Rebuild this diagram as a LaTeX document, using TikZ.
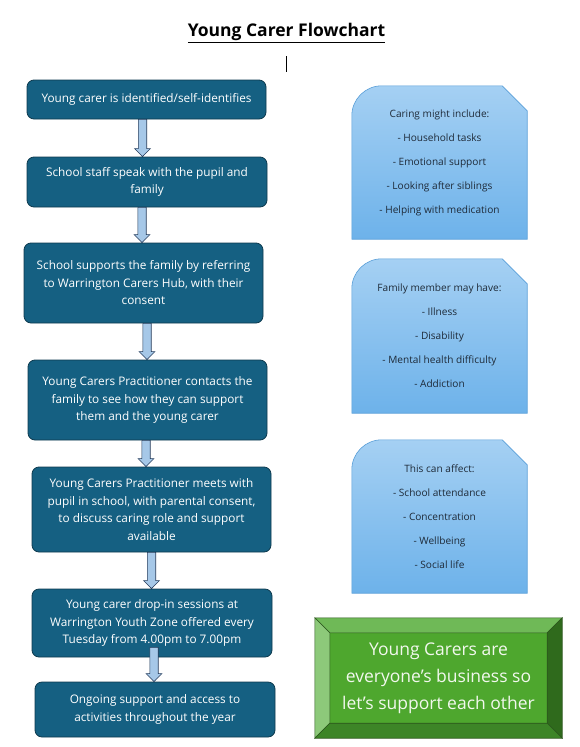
\documentclass[tikz,border=0pt]{standalone}
\usepackage{fontspec}
\setmainfont{Open Sans}
\usetikzlibrary{calc, backgrounds}

\definecolor{boxfill}{HTML}{156082}
\definecolor{boxline}{HTML}{0E3A4E}
\definecolor{arrowfill}{HTML}{A6C8E8}
\definecolor{arrowline}{HTML}{233A5A}
\definecolor{notetop}{HTML}{A5D0F3}
\definecolor{notebottom}{HTML}{6DB2EA}
\definecolor{noteline}{HTML}{5A9FD8}
\definecolor{notetext}{HTML}{1E2A38}
\definecolor{greenmid}{HTML}{4EA72E}
\definecolor{greentop}{HTML}{6FB957}
\definecolor{greenleft}{HTML}{8DC97A}
\definecolor{greenright}{HTML}{2F6A1C}
\definecolor{greenbottom}{HTML}{3D8527}
\definecolor{greenline}{HTML}{2B561C}
\definecolor{greentext}{HTML}{F2F8EE}

% snipped and rounded callout drawn round a node
\newcommand{\noteshape}[1]{%
  \draw[noteline, line width=0.6pt, top color=notetop, bottom color=notebottom]
    (#1.south west) -- ([yshift=-30pt]#1.north west)
    arc[start angle=180, end angle=90, radius=30pt]
    -- ([xshift=-25pt]#1.north east) -- ([yshift=-25pt]#1.north east)
    -- (#1.south east) -- cycle;}

\tikzset{
  flowbox/.style={draw=boxline, fill=boxfill, line width=0.8pt, rounded corners=7pt,
    text=white, align=center, font=\fontsize{11.8}{17.5}\selectfont,
    minimum width=239pt, inner sep=0pt},
  notebox/.style={text=notetext, align=center, font=\fontsize{10.1}{24}\selectfont,
    minimum width=175pt, minimum height=153pt, inner sep=0pt},
  downarrow/.style={draw=arrowline, fill=arrowfill, line width=0.6pt, line join=miter,
    to path={let \p1=(\tikztostart), \p2=(\tikztotarget) in
      (\x1-4.2pt,\y1) -- (\x1+4.2pt,\y1) -- (\x1+4.2pt,\y2+8pt) -- (\x1+7.8pt,\y2+8pt)
      -- (\x1,\y2) -- (\x1-7.8pt,\y2+8pt) -- (\x1-4.2pt,\y2+8pt) -- cycle}},
}

\begin{document}
\begin{tikzpicture}[x=1pt, y=-1pt]
\useasboundingbox (0,0) rectangle (579,747);

\node (title) at (286.5,33) {\fontsize{17.5}{20}\selectfont\bfseries\underline{Young Carer Flowchart}};
\coordinate (caret) at (286.5,56);
\draw[line width=0.8pt] (caret) -- ++(0,16);

% flow down the left
\node[flowbox, minimum height=39pt] (ident) at (146.5,99.5) {Young carer is identified/self-identifies};
\node[flowbox, minimum height=50pt, minimum width=240pt] (staff) at (147,182) {School staff speak with the pupil and\\family};
\node[flowbox, minimum height=80pt] (refer) at (143.5,283) {School supports the family by referring\\to Warrington Carers Hub, with their\\consent};
\node[flowbox, minimum height=80pt] (contact) at (147.5,400) {Young Carers Practitioner contacts the\\family to see how they can support\\them and the young carer};
\node[flowbox, minimum height=85pt] (meet) at (151.5,509.5) {Young Carers Practitioner meets with\\pupil in school, with parental consent,\\to discuss caring role and support\\available};
\node[flowbox, minimum height=68pt, minimum width=240pt] (dropin) at (152,623) {Young carer drop-in sessions at\\Warrington Youth Zone offered every\\Tuesday from 4.00pm to 7.00pm};
\node[flowbox, minimum height=55pt, minimum width=240pt] (ongoing) at (155,709.5) {Ongoing support and access to\\activities throughout the year};

\draw[downarrow] ([xshift=-4pt]ident.south) to (staff.north);
\draw[downarrow] ([xshift=-5pt]staff.south) to (refer.north);
\draw[downarrow] ([xshift=3.5pt]refer.south) to (contact.north);
\draw[downarrow] ([xshift=-1.5pt]contact.south) to (meet.north);
\draw[downarrow] (meet.south) to (dropin.north);
\draw[downarrow] ([xshift=2pt,yshift=10pt]dropin.south) to (ongoing.north);

% notes on the right
\node[notebox] (caring) at (439.5,162.5) {Caring might include:\\- Household tasks\\- Emotional support\\- Looking after siblings\\- Helping with medication};
\node[notebox, minimum height=154pt] (family) at (439.5,336) {Family member may have:\\- Illness\\- Disability\\- Mental health difficulty\\- Addiction};
\node[notebox] (affect) at (439.5,516.5) {This can affect:\\- School attendance\\- Concentration\\- Wellbeing\\- Social life};
\begin{pgfonlayer}{background}
\noteshape{caring}
\noteshape{family}
\noteshape{affect}
\end{pgfonlayer}

% bevelled motto
\node[fill=greenmid, text=greentext, align=center, font=\fontsize{17.5}{27}\selectfont,
  minimum width=217pt, minimum height=90pt, inner sep=0pt] (motto) at (438.5,678)
  {Young Carers are\\everyone’s business so\\let’s support each other};
\coordinate (onw) at ([shift={(-15pt,15pt)}]motto.north west);
\coordinate (one) at ([shift={(15pt,15pt)}]motto.north east);
\coordinate (osw) at ([shift={(-15pt,-15pt)}]motto.south west);
\coordinate (ose) at ([shift={(15pt,-15pt)}]motto.south east);
\begin{scope}[draw=greenline, line width=0.6pt, line join=miter]
\filldraw[fill=greentop] (onw) -- (one) -- (motto.north east) -- (motto.north west) -- cycle;
\filldraw[fill=greenleft] (onw) -- (motto.north west) -- (motto.south west) -- (osw) -- cycle;
\filldraw[fill=greenright] (one) -- (ose) -- (motto.south east) -- (motto.north east) -- cycle;
\filldraw[fill=greenbottom] (osw) -- (motto.south west) -- (motto.south east) -- (ose) -- cycle;
\end{scope}
\end{tikzpicture}
\end{document}
